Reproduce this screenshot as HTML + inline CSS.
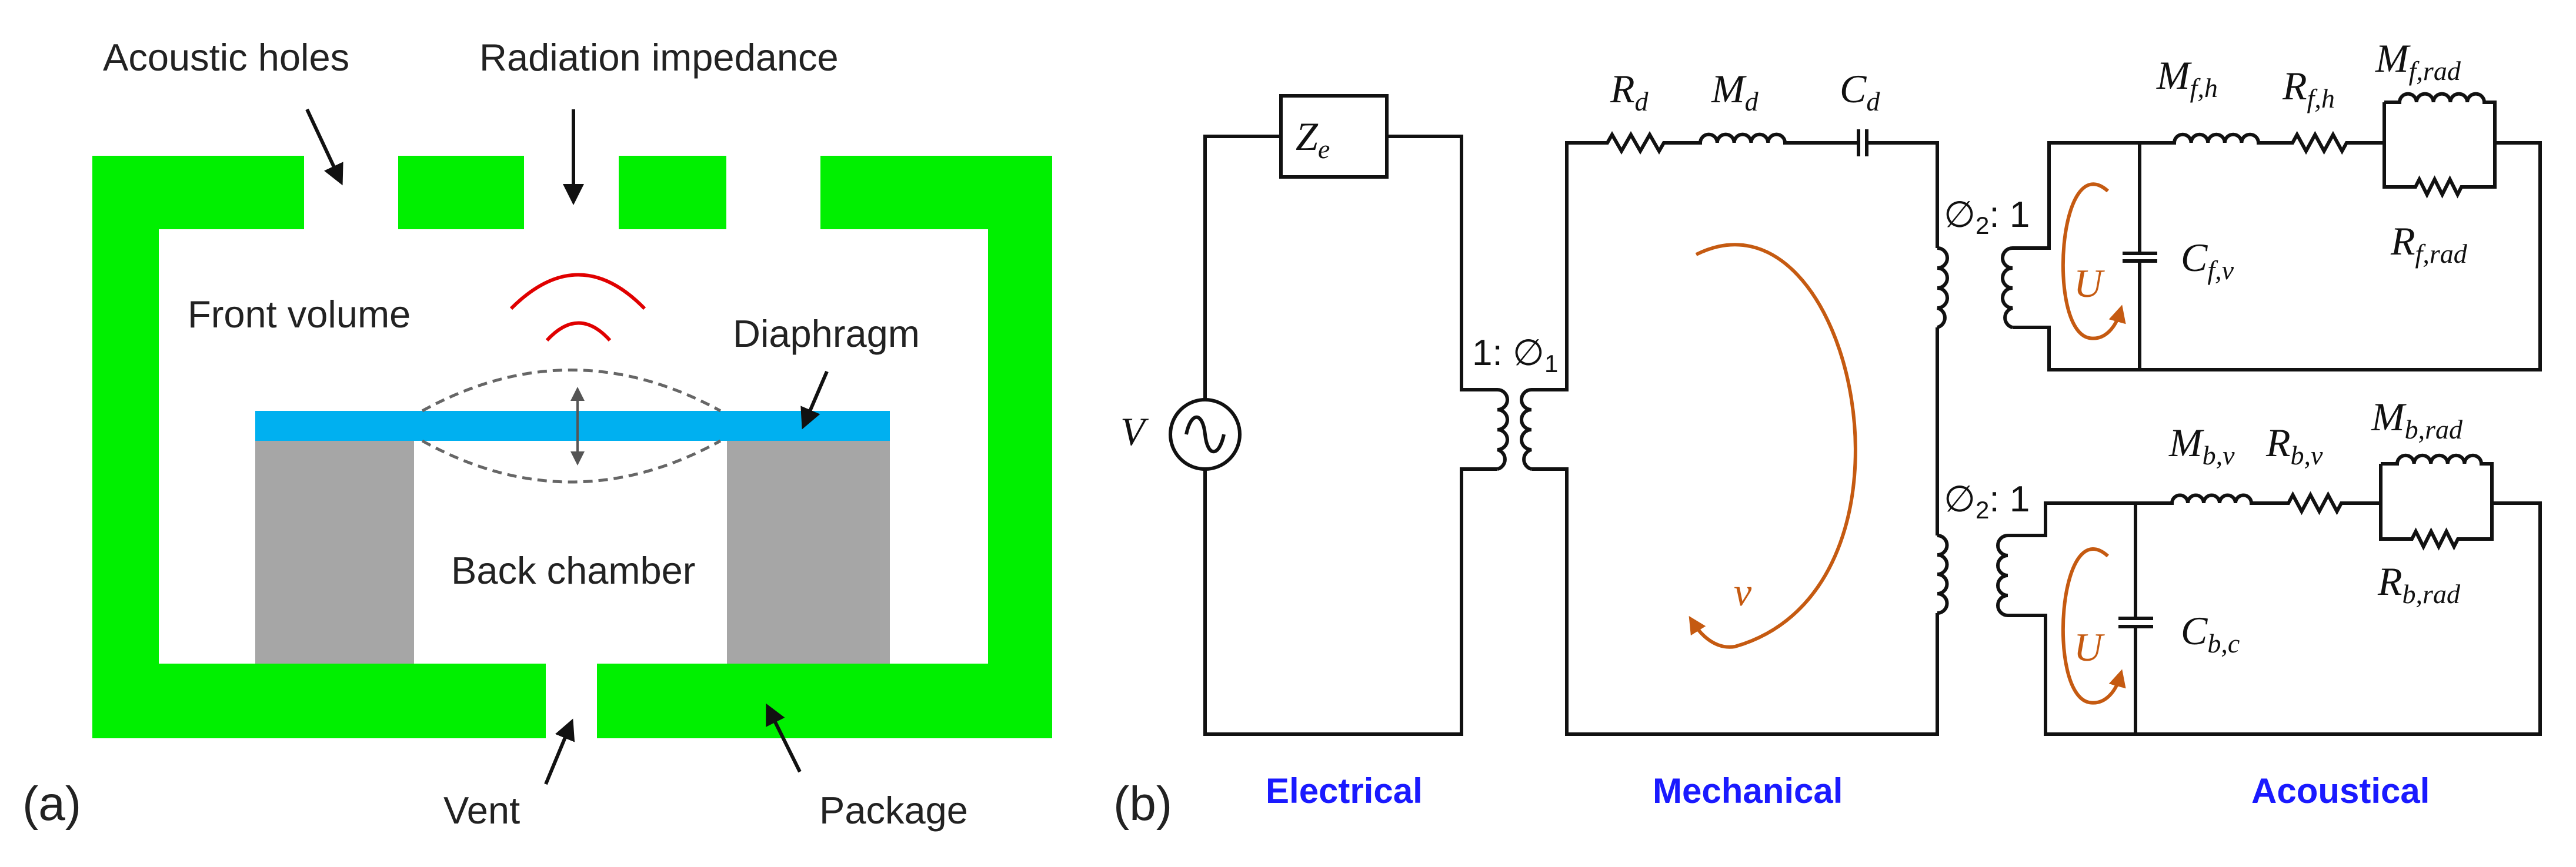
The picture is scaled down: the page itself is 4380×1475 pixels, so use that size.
<!DOCTYPE html>
<html><head><meta charset="utf-8"><style>
html,body{margin:0;padding:0;background:#fff}
svg{display:block}
.s{font-family:"Liberation Sans",sans-serif;font-size:65px;fill:#222}
.m{font-family:"Liberation Serif",serif;font-style:italic;font-size:68px;fill:#111}
.sub{font-size:46px}
.b{font-family:"Liberation Sans",sans-serif;font-weight:bold;font-size:60px;fill:#1a1aff}
.w{fill:none;stroke:#111;stroke-width:6;stroke-linejoin:miter}
</style></head><body>
<svg width="4380" height="1475" viewBox="0 0 4380 1475" xmlns="http://www.w3.org/2000/svg">
<defs>
<marker id="ah" markerWidth="6" markerHeight="6" refX="5" refY="3" orient="auto" markerUnits="strokeWidth"><path d="M0,0 L6,3 L0,6 z" fill="#111"/></marker>
<marker id="ag" markerWidth="6" markerHeight="6" refX="5" refY="3" orient="auto" markerUnits="strokeWidth"><path d="M0,0 L6,3 L0,6 z" fill="#555"/></marker>
<marker id="ao" markerWidth="5" markerHeight="5" refX="3" refY="2.5" orient="auto" markerUnits="strokeWidth"><path d="M0,0 L5,2.5 L0,5 z" fill="#c55a11"/></marker>
</defs>
<!-- Panel a -->
<g fill="#00f000">
<rect x="157" y="265" width="113" height="991"/>
<rect x="1680" y="265" width="109" height="991"/>
<rect x="157" y="265" width="360" height="125"/>
<rect x="677" y="265" width="214" height="125"/>
<rect x="1052" y="265" width="183" height="125"/>
<rect x="1395" y="265" width="394" height="125"/>
<rect x="157" y="1129" width="771" height="127"/>
<rect x="1015" y="1129" width="774" height="127"/>
</g>
<rect x="434" y="750" width="270" height="379" fill="#a6a6a6"/>
<rect x="1236" y="750" width="277" height="379" fill="#a6a6a6"/>
<rect x="434" y="699" width="1079" height="51" fill="#00b0f0"/>
<path d="M718,699 Q971,560 1225,699 M718,750 Q971,890 1225,750" fill="none" stroke="#666" stroke-width="5" stroke-dasharray="16,10"/>
<line x1="982" y1="725" x2="982" y2="662" stroke="#555" stroke-width="4" marker-end="url(#ag)"/>
<line x1="982" y1="725" x2="982" y2="788" stroke="#555" stroke-width="4" marker-end="url(#ag)"/>
<path d="M869,525 Q984,410 1096,525" fill="none" stroke="#e00000" stroke-width="6"/>
<path d="M930,579 Q984,520 1037,579" fill="none" stroke="#e00000" stroke-width="6"/>
<g stroke="#111" stroke-width="6">
<line x1="522" y1="186" x2="580" y2="310" marker-end="url(#ah)"/>
<line x1="975" y1="186" x2="975" y2="343" marker-end="url(#ah)"/>
<line x1="1406" y1="632" x2="1366" y2="725" marker-end="url(#ah)"/>
<line x1="928" y1="1334" x2="972" y2="1228" marker-end="url(#ah)"/>
<line x1="1360" y1="1313" x2="1305" y2="1202" marker-end="url(#ah)"/>
</g>
<text class="s" x="175" y="120">Acoustic holes</text>
<text class="s" x="815" y="120">Radiation impedance</text>
<text class="s" x="319" y="557">Front volume</text>
<text class="s" x="1246" y="590">Diaphragm</text>
<text class="s" x="767" y="993">Back chamber</text>
<text class="s" x="754" y="1401">Vent</text>
<text class="s" x="1393" y="1401">Package</text>
<text class="s" x="38" y="1395" style="font-size:82px">(a)</text>
<!-- Panel b -->
<text class="s" x="1893" y="1395" style="font-size:82px">(b)</text>
<path class="w" d="M2049,680 V232 H2178 M2358,232 H2485 V663 H2546 M2546,798 H2485 V1249 H2049 V798"/>
<rect class="w" x="2178" y="163" width="180" height="138"/>
<circle class="w" cx="2049" cy="739" r="59"/>
<path class="w" d="M2017,739 C2025,700 2045,700 2049,739 C2053,778 2073,778 2081,739"/>
<path class="w" d="M2546,663 a17,17 0 0 1 0,34 a17,17 0 0 1 0,34 a17,17 0 0 1 0,34 a17,17 0 0 1 0,33"/>
<path class="w" d="M2604,663 a17,17 0 0 0 0,34 a17,17 0 0 0 0,34 a17,17 0 0 0 0,34 a17,17 0 0 0 0,33"/>
<path class="w" d="M2604,663 H2664 V243 H2733 l8,-14 l16,28 l16,-28 l16,28 l16,-28 l16,28 l8,-14 H2891 a14.4,14.4 0 0 1 28.8,0 a14.4,14.4 0 0 1 28.8,0 a14.4,14.4 0 0 1 28.8,0 a14.4,14.4 0 0 1 28.8,0 a14.4,14.4 0 0 1 28.8,0 H3160 M3174,243 H3294 V422 M3294,557 V911 M3294,1043 V1249 H2664 V798 H2604"/>
<path class="w" d="M3160,220 V266 M3174,220 V266"/>
<text class="m" x="2738" y="174">R<tspan class="sub" dy="14">d</tspan></text>
<text class="m" x="2910" y="174">M<tspan class="sub" dy="14">d</tspan></text>
<text class="m" x="3128" y="174">C<tspan class="sub" dy="14">d</tspan></text>
<text class="m" x="1905" y="757">V</text>
<text class="m" x="2203" y="255">Z<tspan class="sub" dy="14">e</tspan></text>
<text class="s" x="2503" y="621" style="fill:#111;font-size:62px">1: ∅<tspan font-size="42" dy="12">1</tspan></text>
<path d="M2884,433 C3150,300 3300,1000 2950,1100 C2920,1105 2895,1085 2878,1058" fill="none" stroke="#c55a11" stroke-width="6" marker-end="url(#ao)"/>
<text class="m" x="2948" y="1030" style="fill:#c55a11">v</text>
<path class="w" d="M3294,422 a17,17 0 0 1 0,34 a17,17 0 0 1 0,34 a17,17 0 0 1 0,34 a17,17 0 0 1 0,33"/>
<path class="w" d="M3294,911 a16.5,16.5 0 0 1 0,33 a16.5,16.5 0 0 1 0,33 a16.5,16.5 0 0 1 0,33 a16.5,16.5 0 0 1 0,33"/>
<path class="w" d="M3422,422 a17,17 0 0 0 0,34 a17,17 0 0 0 0,34 a17,17 0 0 0 0,34 a17,17 0 0 0 0,33"/>
<path class="w" d="M3414,911 a17,17 0 0 0 0,34 a17,17 0 0 0 0,34 a17,17 0 0 0 0,34 a17,17 0 0 0 0,34"/>
<path class="w" d="M3422,422 H3484 V243 H3697 a14.3,14.3 0 0 1 28.6,0 a14.3,14.3 0 0 1 28.6,0 a14.3,14.3 0 0 1 28.6,0 a14.3,14.3 0 0 1 28.6,0 a14.3,14.3 0 0 1 28.6,0 H3898 l7.7,-14 l15.3,28 l15.3,-28 l15.3,28 l15.3,-28 l15.3,28 l7.7,-14 H4054 M4242,243 H4319 V629 H3484 V557 H3422"/>
<path class="w" d="M3638,243 V431 M3638,444 V629 M3609,431 H3668 M3609,444 H3668"/>
<path class="w" d="M4054,174 V318 H4107 l6.6,-13 l13,26 l13,-26 l13,26 l13,-26 l13,26 l6.6,-13 H4242 V174 H4224 a14.4,14.4 0 0 0 -28.8,0 a14.4,14.4 0 0 0 -28.8,0 a14.4,14.4 0 0 0 -28.8,0 a14.4,14.4 0 0 0 -28.8,0 a14.4,14.4 0 0 0 -28.8,0 H4054"/>
<path class="w" d="M3414,911 H3478 V856 H3693 a13.5,13.5 0 0 1 27,0 a13.5,13.5 0 0 1 27,0 a13.5,13.5 0 0 1 27,0 a13.5,13.5 0 0 1 27,0 a13.5,13.5 0 0 1 27,0 H3891 l7.5,-14 l15,28 l15,-28 l15,28 l15,-28 l15,28 l7.5,-14 H4048 M4237,856 H4319 V1249 H3478 V1047 H3414 M3294,1043 V1249 H3200"/>
<path class="w" d="M3631,856 V1052 M3631,1066 V1249 M3602,1052 H3661 M3602,1066 H3661"/>
<path class="w" d="M4048,789 V917 H4101 l6.6,-13 l13,26 l13,-26 l13,26 l13,-26 l13,26 l6.6,-13 H4237 V789 H4219 a14.3,14.3 0 0 0 -28.6,0 a14.3,14.3 0 0 0 -28.6,0 a14.3,14.3 0 0 0 -28.6,0 a14.3,14.3 0 0 0 -28.6,0 a14.3,14.3 0 0 0 -28.6,0 H4048"/>
<path d="M3584,325 C3500,250 3480,560 3552,575 C3580,580 3598,555 3605,530" fill="none" stroke="#c55a11" stroke-width="6" marker-end="url(#ao)"/>
<text class="m" x="3526" y="505" style="fill:#c55a11">U</text>
<path d="M3584,946 C3500,870 3480,1180 3552,1195 C3580,1200 3598,1175 3605,1150" fill="none" stroke="#c55a11" stroke-width="6" marker-end="url(#ao)"/>
<text class="m" x="3526" y="1124" style="fill:#c55a11">U</text>
<text class="s" x="3305" y="386" style="fill:#111;font-size:62px">∅<tspan font-size="42" dy="12">2</tspan><tspan dy="-12">: 1</tspan></text>
<text class="s" x="3305" y="870" style="fill:#111;font-size:62px">∅<tspan font-size="42" dy="12">2</tspan><tspan dy="-12">: 1</tspan></text>
<text class="m" x="3667" y="151">M<tspan class="sub" dy="14">f,h</tspan></text>
<text class="m" x="3881" y="169">R<tspan class="sub" dy="14">f,h</tspan></text>
<text class="m" x="4039" y="122">M<tspan class="sub" dy="14">f,rad</tspan></text>
<text class="m" x="4065" y="433">R<tspan class="sub" dy="14">f,rad</tspan></text>
<text class="m" x="3708" y="461">C<tspan class="sub" dy="14">f,v</tspan></text>
<text class="m" x="3688" y="776">M<tspan class="sub" dy="14">b,v</tspan></text>
<text class="m" x="3853" y="776">R<tspan class="sub" dy="14">b,v</tspan></text>
<text class="m" x="4032" y="732">M<tspan class="sub" dy="14">b,rad</tspan></text>
<text class="m" x="4043" y="1012">R<tspan class="sub" dy="14">b,rad</tspan></text>
<text class="m" x="3708" y="1096">C<tspan class="sub" dy="14">b,c</tspan></text>
<text class="b" x="2152" y="1366">Electrical</text>
<text class="b" x="2810" y="1366">Mechanical</text>
<text class="b" x="3828" y="1366">Acoustical</text>
</svg>
</body></html>
